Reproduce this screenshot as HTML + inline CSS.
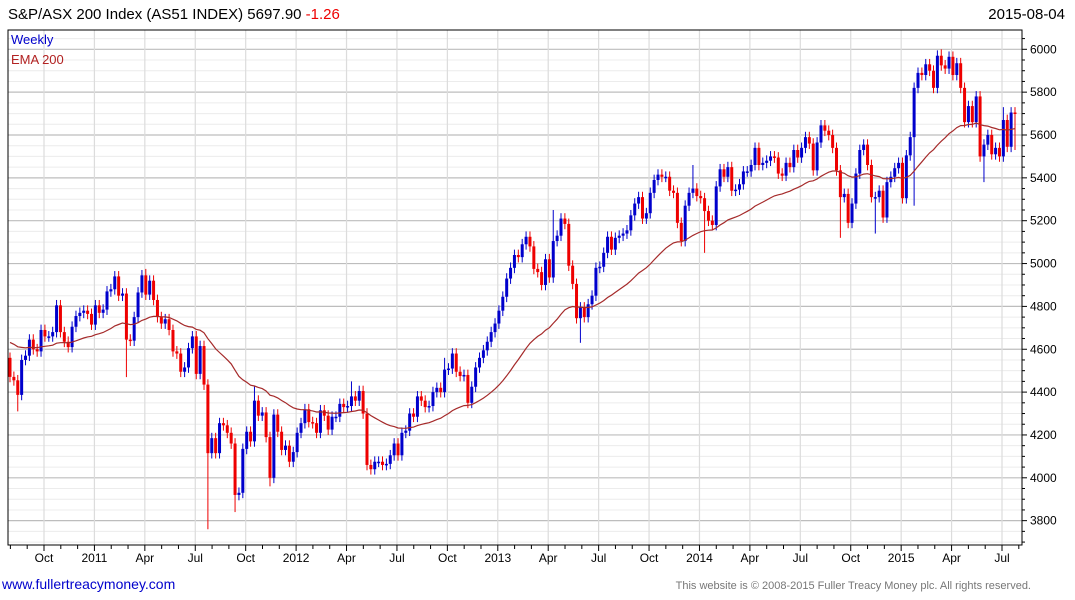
<!DOCTYPE html>
<html><head><meta charset="utf-8"><style>
body{margin:0;background:#fff;font-family:"Liberation Sans",sans-serif;}
#wrap{position:relative;width:1075px;height:600px;overflow:hidden;}
</style></head><body>
<div id="wrap">
<svg id="chart" width="1075" height="600"></svg>
</div>
<script>
const closes=[4471,4455,4387,4550,4570,4645,4600,4590,4690,4660,4660,4680,4805,4680,4635,4610,4705,4755,4770,4780,4765,4715,4805,4770,4785,4870,4880,4940,4850,4860,4645,4640,4750,4865,4945,4855,4920,4830,4750,4720,4740,4690,4590,4580,4495,4515,4605,4660,4485,4615,4435,4115,4185,4115,4255,4245,4210,4160,3920,3930,4135,4215,4170,4360,4290,4305,4190,4000,4295,4215,
4130,4150,4075,4120,4210,4255,4320,4260,4255,4210,4315,4290,4225,4285,4285,4345,4330,4335,4380,4360,4405,4300,4060,4040,4075,4075,4060,4065,4105,4160,4105,4210,4220,4300,4285,4380,4360,4330,4335,4400,4420,4400,4505,4510,4580,4495,4475,4480,4350,4425,4515,4560,4595,4635,4680,4720,4780,4845,4930,4980,5040,5030,
5090,5125,5080,4975,4960,4900,5020,4935,5105,5130,5210,5185,4990,4905,4745,4795,4750,4810,4850,4980,4985,5050,5125,5065,5120,5130,5140,5155,5225,5280,5310,5210,5235,5330,5390,5415,5405,5405,5340,5330,5190,5105,5270,5330,5350,5315,5305,5245,5200,5180,5360,5440,5405,5450,5340,5345,5370,5430,5430,5460,5540,5460,5470,5480,5500,5495,5420,
5410,5470,5450,5530,5495,5540,5590,5560,5435,5565,5645,5620,5600,5540,5435,5310,5325,5190,5280,5420,5530,5555,5460,5310,5310,5340,5215,5380,5405,5445,5470,5305,5505,5590,5820,5890,5880,5930,5900,5820,5970,5925,5910,5965,5880,5935,5820,5660,5735,5660,5780,5500,5555,5600,5510,5540,5500,5670,5545,5705,5698];
const firstOpen=4560;
const lowIdx=[2,30,51,58,67,147,179,214,223,251,233,259];
const lowVals=[4310,4470,3760,3840,3960,4630,5050,5120,5140,5380,5270,5530];
const highIdx=[35,27,63,88,112,140,176,240,256];
const highVals=[4975,4960,4430,4450,4560,5250,5460,6000,5730];
const yTicks=[3800,4000,4200,4400,4600,4800,5000,5200,5400,5600,5800,6000];
const xLabels=["Oct","2011","Apr","Jul","Oct","2012","Apr","Jul","Oct","2013","Apr","Jul","Oct","2014","Apr","Jul","Oct","2015","Apr","Jul"];
const emaSeed=4640;

const NS="http://www.w3.org/2000/svg";
const svg=document.getElementById('chart');
const L=8,R=1022,T=30,B=545;
function yS(v){return 49.3+(6000-v)*0.21425;}
const N=closes.length;
function xS(i){return 10+i*(1005/(N-1));}
function mk(tag,attrs,parent){const e=document.createElementNS(NS,tag);for(const k in attrs)e.setAttribute(k,attrs[k]);(parent||svg).appendChild(e);return e;}
const grid=mk('g',{});


for(let v=3700;v<=6050;v+=50){const y=yS(v);if(y<T||y>B)continue;
 mk('line',{x1:L,x2:R,y1:y,y2:y,stroke:v%200===0?'#bdbdbd':'#ececec','stroke-width':v%200===0?1.2:1},grid);}
const monthPx=958/57;
for(let q=0;q<xLabels.length;q++){const x=44+q*3*monthPx;
 mk('line',{x1:x,x2:x,y1:T,y2:B,stroke:'#dcdcdc','stroke-width':1.2},grid);
 const t=mk('text',{x:x,y:562,'font-size':12,'text-anchor':'middle',fill:'#000'});t.textContent=xLabels[q];
 
 }
for(let m=-2;m<60;m++){const x=44+m*monthPx;if(x<L||x>R)continue;mk('line',{x1:x,x2:x,y1:B,y2:B+(m%3===0?6:4),stroke:'#000'},grid);}
for(const v of yTicks){const y=yS(v);
 const t=mk('text',{x:1030,y:y+4,'font-size':12,fill:'#000'});t.textContent=v;
 
 }
for(let v=3700;v<=6050;v+=50){const y=yS(v);if(y<T||y>B)continue;mk('line',{x1:R,x2:R+(v%200===0?5:3),y1:y,y2:y,stroke:'#000'});}
const cg=mk('g',{});


let prev=firstOpen;
for(let i=0;i<N;i++){const o=prev,c=closes[i];const up=c>=o;const col=up?'#0000cc':'#ee0000';
 const x=xS(i);let hi=Math.max(o,c)+25,lo=Math.min(o,c)-25;
 const li=lowIdx.indexOf(i);if(li>=0)lo=Math.min(lo,lowVals[li]);
 const hI=highIdx.indexOf(i);if(hI>=0)hi=Math.max(hi,highVals[hI]);
 const g=mk('g',{},cg);
 
 
 mk('line',{x1:x,x2:x,y1:yS(hi),y2:yS(lo),stroke:col,'stroke-width':1},g);
 const y1=yS(Math.max(o,c)),y2=yS(Math.min(o,c));
 mk('rect',{x:x-1.5,y:y1,width:3,height:Math.max(1.5,y2-y1),fill:col},g);
 prev=c;}
let e=emaSeed,pts=[];const a=2/41;
for(let i=0;i<N;i++){e=e+a*(closes[i]-e);pts.push(xS(i).toFixed(1)+','+yS(e).toFixed(1));}
const ema=mk('polyline',{points:pts.join(' '),fill:'none',stroke:'#a52a2a','stroke-width':1.2});


const fr=mk('rect',{x:L,y:T,width:R-L,height:B-T,fill:'none',stroke:'#000','stroke-width':1});


</script>
<div style="position:absolute;left:8px;top:6px;font-size:15px;color:#000;">S&amp;P/ASX 200 Index (AS51 INDEX) 5697.90 <span style="color:#e00">-1.26</span></div>
<div style="position:absolute;right:10px;top:6px;font-size:15px;">2015-08-04</div>
<div style="position:absolute;left:11px;top:32px;font-size:13px;color:#0000cc;">Weekly</div>
<div style="position:absolute;left:11px;top:52px;font-size:13px;color:#b22222;">EMA 200</div>
<div style="position:absolute;left:2px;top:576px;font-size:14px;color:#0000cc;">www.fullertreacymoney.com</div>
<div style="position:absolute;right:44px;top:580px;font-size:11px;color:#777;">This website is © 2008-2015 Fuller Treacy Money plc. All rights reserved.</div>
</body></html>
